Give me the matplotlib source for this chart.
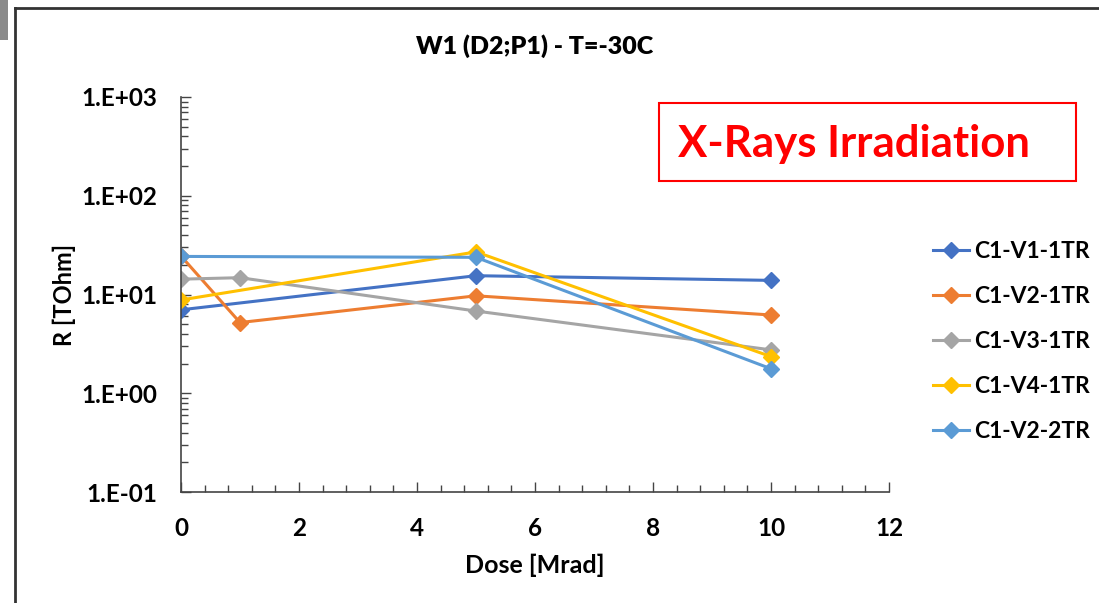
import math
import matplotlib.pyplot as plt
from matplotlib.lines import Line2D
from matplotlib.patches import Rectangle
from matplotlib.ticker import LogLocator, MultipleLocator, FuncFormatter

plt.rcParams['font.family'] = ['Lato', 'DejaVu Sans']
plt.rcParams['font.weight'] = 'bold'

# data
dose_v1 = [0, 5, 10]
r_v1 = [7.0, 15.5, 13.9]

dose_v2 = [0, 1, 5, 10]
r_v2 = [24.5, 5.2, 9.7, 6.2]

dose_v3 = [0, 1, 5, 10]
r_v3 = [14.3, 14.8, 6.8, 2.75]

dose_v4 = [0, 5, 10]
r_v4 = [8.8, 27.0, 2.35]

dose_v2_2 = [0, 5, 10]
r_v2_2 = [24.3, 23.8, 1.77]

labels = ['C1-V1-1TR', 'C1-V2-1TR', 'C1-V3-1TR', 'C1-V4-1TR', 'C1-V2-2TR']
colors = ['#4472C4', '#ED7D31', '#A5A5A5', '#FFC000', '#5B9BD5']
series = [(dose_v1, r_v1), (dose_v2, r_v2), (dose_v3, r_v3), (dose_v4, r_v4), (dose_v2_2, r_v2_2)]

W, H = 1099, 603
fig = plt.figure(figsize=(W / 100, H / 100), dpi=100)
ax = fig.add_axes([181 / W, 1 - 492 / H, (889 - 181) / W, (492 - 97) / H])

for (x, y), lab, c in zip(series, labels, colors):
    ax.plot(x, y, color=c, lw=2.2, marker='D', markersize=8.5, label=lab)

ax.set_yscale('log')
ax.set_ylim(0.1, 1000)
ax.set_xlim(0, 12)
ax.xaxis.set_major_locator(MultipleLocator(2))
ax.xaxis.set_minor_locator(MultipleLocator(0.4))
ax.yaxis.set_major_locator(LogLocator(base=10))
ax.yaxis.set_minor_locator(LogLocator(base=10, subs=range(2, 10)))
ax.yaxis.set_major_formatter(FuncFormatter(lambda v, p: '1.E%+03d' % round(math.log10(v))))
ax.yaxis.set_minor_formatter(FuncFormatter(lambda v, p: ''))

ax.tick_params(axis='both', which='both', direction='in', color='#444444', labelsize=17.5, width=1)
ax.tick_params(axis='both', which='major', length=7)
ax.tick_params(axis='both', which='minor', length=5)
ax.tick_params(axis='x', which='major', pad=18)
ax.tick_params(axis='y', which='major', pad=17)
for s in ['top', 'right']:
    ax.spines[s].set_visible(False)
for s in ['left', 'bottom']:
    ax.spines[s].set_color('#444444')
    ax.spines[s].set_linewidth(1.2)

ax.set_xlabel('Dose [Mrad]', fontsize=18, fontweight='bold', labelpad=10)
ax.set_ylabel('R [TOhm]', fontsize=17, fontweight='bold', labelpad=4)
fig.text(535 / W, 1 - 46 / H, 'W1 (D2;P1) - T=-30C', ha='center', va='center',
         fontsize=18, fontweight='heavy', color='#000000')

fig.legend(loc='upper left', bbox_to_anchor=(912 / W, 1 - 220 / H), frameon=False,
           fontsize=16.5, handlelength=1.6, handletextpad=0.2, labelspacing=1.05,
           markerscale=0.9)

# red annotation box
fig.text(854 / W, 1 - 144 / H, 'X-Rays Irradiation', ha='center', va='center',
         fontsize=31.5, fontweight='bold', color='#FF0000')
fig.add_artist(Rectangle((659 / W, 1 - 181 / H), (1076 - 659) / W, (181 - 103) / H,
                         transform=fig.transFigure, fill=False, edgecolor='#FF0000', lw=1.5))

# chart frame (screenshot edges)
fig.add_artist(Line2D([15 / W, 15 / W], [0, 1 - 8 / H], transform=fig.transFigure, color='#333333', lw=2))
fig.add_artist(Line2D([15 / W, 1], [1 - 8 / H, 1 - 8 / H], transform=fig.transFigure, color='#333333', lw=2))
fig.add_artist(Rectangle((0, 1 - 40 / H), 8 / W, 40 / H, transform=fig.transFigure,
                         color='#8a8a8a', lw=0))

fig.savefig('out.png', dpi=100)
